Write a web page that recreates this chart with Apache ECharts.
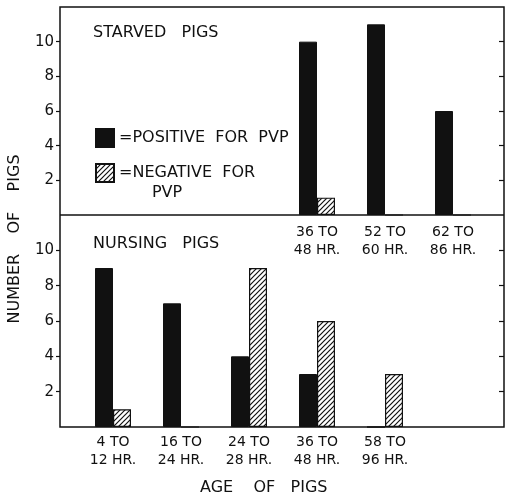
<!DOCTYPE html>
<html>
<head>
<meta charset="utf-8">
<script src="https://cdn.jsdelivr.net/npm/echarts@6/dist/echarts.min.js"></script>
<style>
html,body{margin:0;padding:0;background:#fff;}
#c{width:505px;height:498px;}
</style>
</head>
<body>
<div id="c"></div>
<script>
// ---- data ----
const starvedCats = ['', '', '', '36 TO\n48 HR.', '52 TO\n60 HR.', '62 TO\n86 HR.'];
const nursingCats = ['4 TO\n12 HR.', '16 TO\n24 HR.', '24 TO\n28 HR.', '36 TO\n48 HR.', '58 TO\n96 HR.', ''];
const starvedPositive = ['-', '-', '-', 10, 11, 6];
const starvedNegative = ['-', '-', '-', 1, 0, 0];
const nursingPositive = [9, 7, 4, 3, 0, '-'];
const nursingNegative = [1, 0, 9, 6, 3, '-'];
const yTicks = [2, 4, 6, 8, 10];
const yMax = 12;

// ---- style ----
const FONT = 'DejaVu Sans';
const INK = '#111';

function hatch() {
  const s = 5;
  const cv = document.createElement('canvas');
  cv.width = s; cv.height = s;
  const g = cv.getContext('2d');
  g.fillStyle = '#fff';
  g.fillRect(0, 0, s, s);
  g.strokeStyle = INK;
  g.lineWidth = 1.2;
  g.beginPath();
  g.moveTo(0, s); g.lineTo(s, 0);
  g.moveTo(-1, 1); g.lineTo(1, -1);
  g.moveTo(s - 1, s + 1); g.lineTo(s + 1, s - 1);
  g.stroke();
  return cv;
}
const hatchPattern = { image: hatch(), repeat: 'repeat' };

const chart = echarts.init(document.getElementById('c'), null, { renderer: 'canvas' });

const FL = 60, FR = 504, FT = 7, FM = 215, FB = 427;
const GL = 79, GR = 505 - 487;

function xAx(i, data, margin) {
  return {
    type: 'category', gridIndex: i, data: data,
    axisLine: { show: false }, axisTick: { show: false },
    axisLabel: { color: INK, fontFamily: FONT, fontSize: 14, lineHeight: 18, margin: margin, interval: 0 }
  };
}
function yLeft(i) {
  return {
    type: 'value', gridIndex: i, min: 0, max: yMax, interval: 2, offset: GL - FL,
    axisLine: { show: false }, splitLine: { show: false },
    axisTick: { show: true, length: 4, customValues: yTicks, lineStyle: { color: INK, width: 1.2 } },
    axisLabel: { customValues: yTicks, color: INK, fontFamily: FONT, fontSize: 15, margin: 6 }
  };
}
function yRight(i) {
  return {
    type: 'value', gridIndex: i, position: 'right', min: 0, max: yMax, interval: 2, offset: FR - 487,
    axisLine: { show: false }, splitLine: { show: false },
    axisTick: { show: true, inside: true, length: 5, customValues: yTicks, lineStyle: { color: INK, width: 1.2 } },
    axisLabel: { show: false }
  };
}
const solid = { color: INK, borderColor: INK, borderWidth: 1 };
const hatched = { color: hatchPattern, borderColor: INK, borderWidth: 1.2 };

chart.setOption({
  backgroundColor: '#fff',
  animation: false,
  grid: [
    { left: GL, right: GR, top: FT, height: FM - FT },
    { left: GL, right: GR, top: FM, height: FB - FM }
  ],
  xAxis: [xAx(0, starvedCats, 8), xAx(1, nursingCats, 6)],
  yAxis: [yLeft(0), yRight(0), yLeft(1), yRight(1)],
  legend: {
    orient: 'vertical', left: 95, top: 128, itemWidth: 18, itemHeight: 18, itemGap: 15,
    padding: 0,
    icon: 'rect',
    data: ['POSITIVE FOR PVP', 'NEGATIVE FOR PVP'],
    formatter: n => n === 'POSITIVE FOR PVP' ? '=POSITIVE  FOR  PVP' : '=NEGATIVE  FOR',
    textStyle: { color: INK, fontFamily: FONT, fontSize: 16 },
    selectedMode: false
  },
  title: [
    { text: 'STARVED   PIGS', left: 93, top: 25, textStyle: { color: INK, fontFamily: FONT, fontSize: 16, fontWeight: 'normal' }, padding: 0 },
    { text: 'NURSING   PIGS', left: 93, top: 236, textStyle: { color: INK, fontFamily: FONT, fontSize: 16, fontWeight: 'normal' }, padding: 0 }
  ],
  graphic: [
    { type: 'rect', shape: { x: FL, y: FT, width: FR - FL, height: FB - FT }, style: { fill: 'none', stroke: INK, lineWidth: 1.5 }, z: 10 },
    { type: 'line', shape: { x1: FL, y1: FM, x2: FR, y2: FM }, style: { stroke: INK, lineWidth: 1.5 }, z: 10 },
    { type: 'text', x: 167, y: 193, style: { text: 'PVP', fill: INK, font: '16px "DejaVu Sans"', textAlign: 'center', textVerticalAlign: 'middle' } },
    { type: 'text', x: 15, y: 239, rotation: Math.PI / 2, style: { text: 'NUMBER    OF    PIGS', fill: INK, font: '16px "DejaVu Sans"', textAlign: 'center', textVerticalAlign: 'middle' } },
    { type: 'text', x: 200, y: 488, style: { text: 'AGE    OF   PIGS', fill: INK, font: '16px "DejaVu Sans"', textAlign: 'left', textVerticalAlign: 'middle' } }
  ],
  series: [
    { name: 'POSITIVE FOR PVP', type: 'bar', xAxisIndex: 0, yAxisIndex: 0, data: starvedPositive, barWidth: 18, barGap: '0%', itemStyle: solid },
    { name: 'NEGATIVE FOR PVP', type: 'bar', xAxisIndex: 0, yAxisIndex: 0, data: starvedNegative, barWidth: 18, barGap: '0%', itemStyle: hatched },
    { name: 'POSITIVE FOR PVP', type: 'bar', xAxisIndex: 1, yAxisIndex: 2, data: nursingPositive, barWidth: 18, barGap: '0%', itemStyle: solid },
    { name: 'NEGATIVE FOR PVP', type: 'bar', xAxisIndex: 1, yAxisIndex: 2, data: nursingNegative, barWidth: 18, barGap: '0%', itemStyle: hatched }
  ]
});
</script>
</body>
</html>
